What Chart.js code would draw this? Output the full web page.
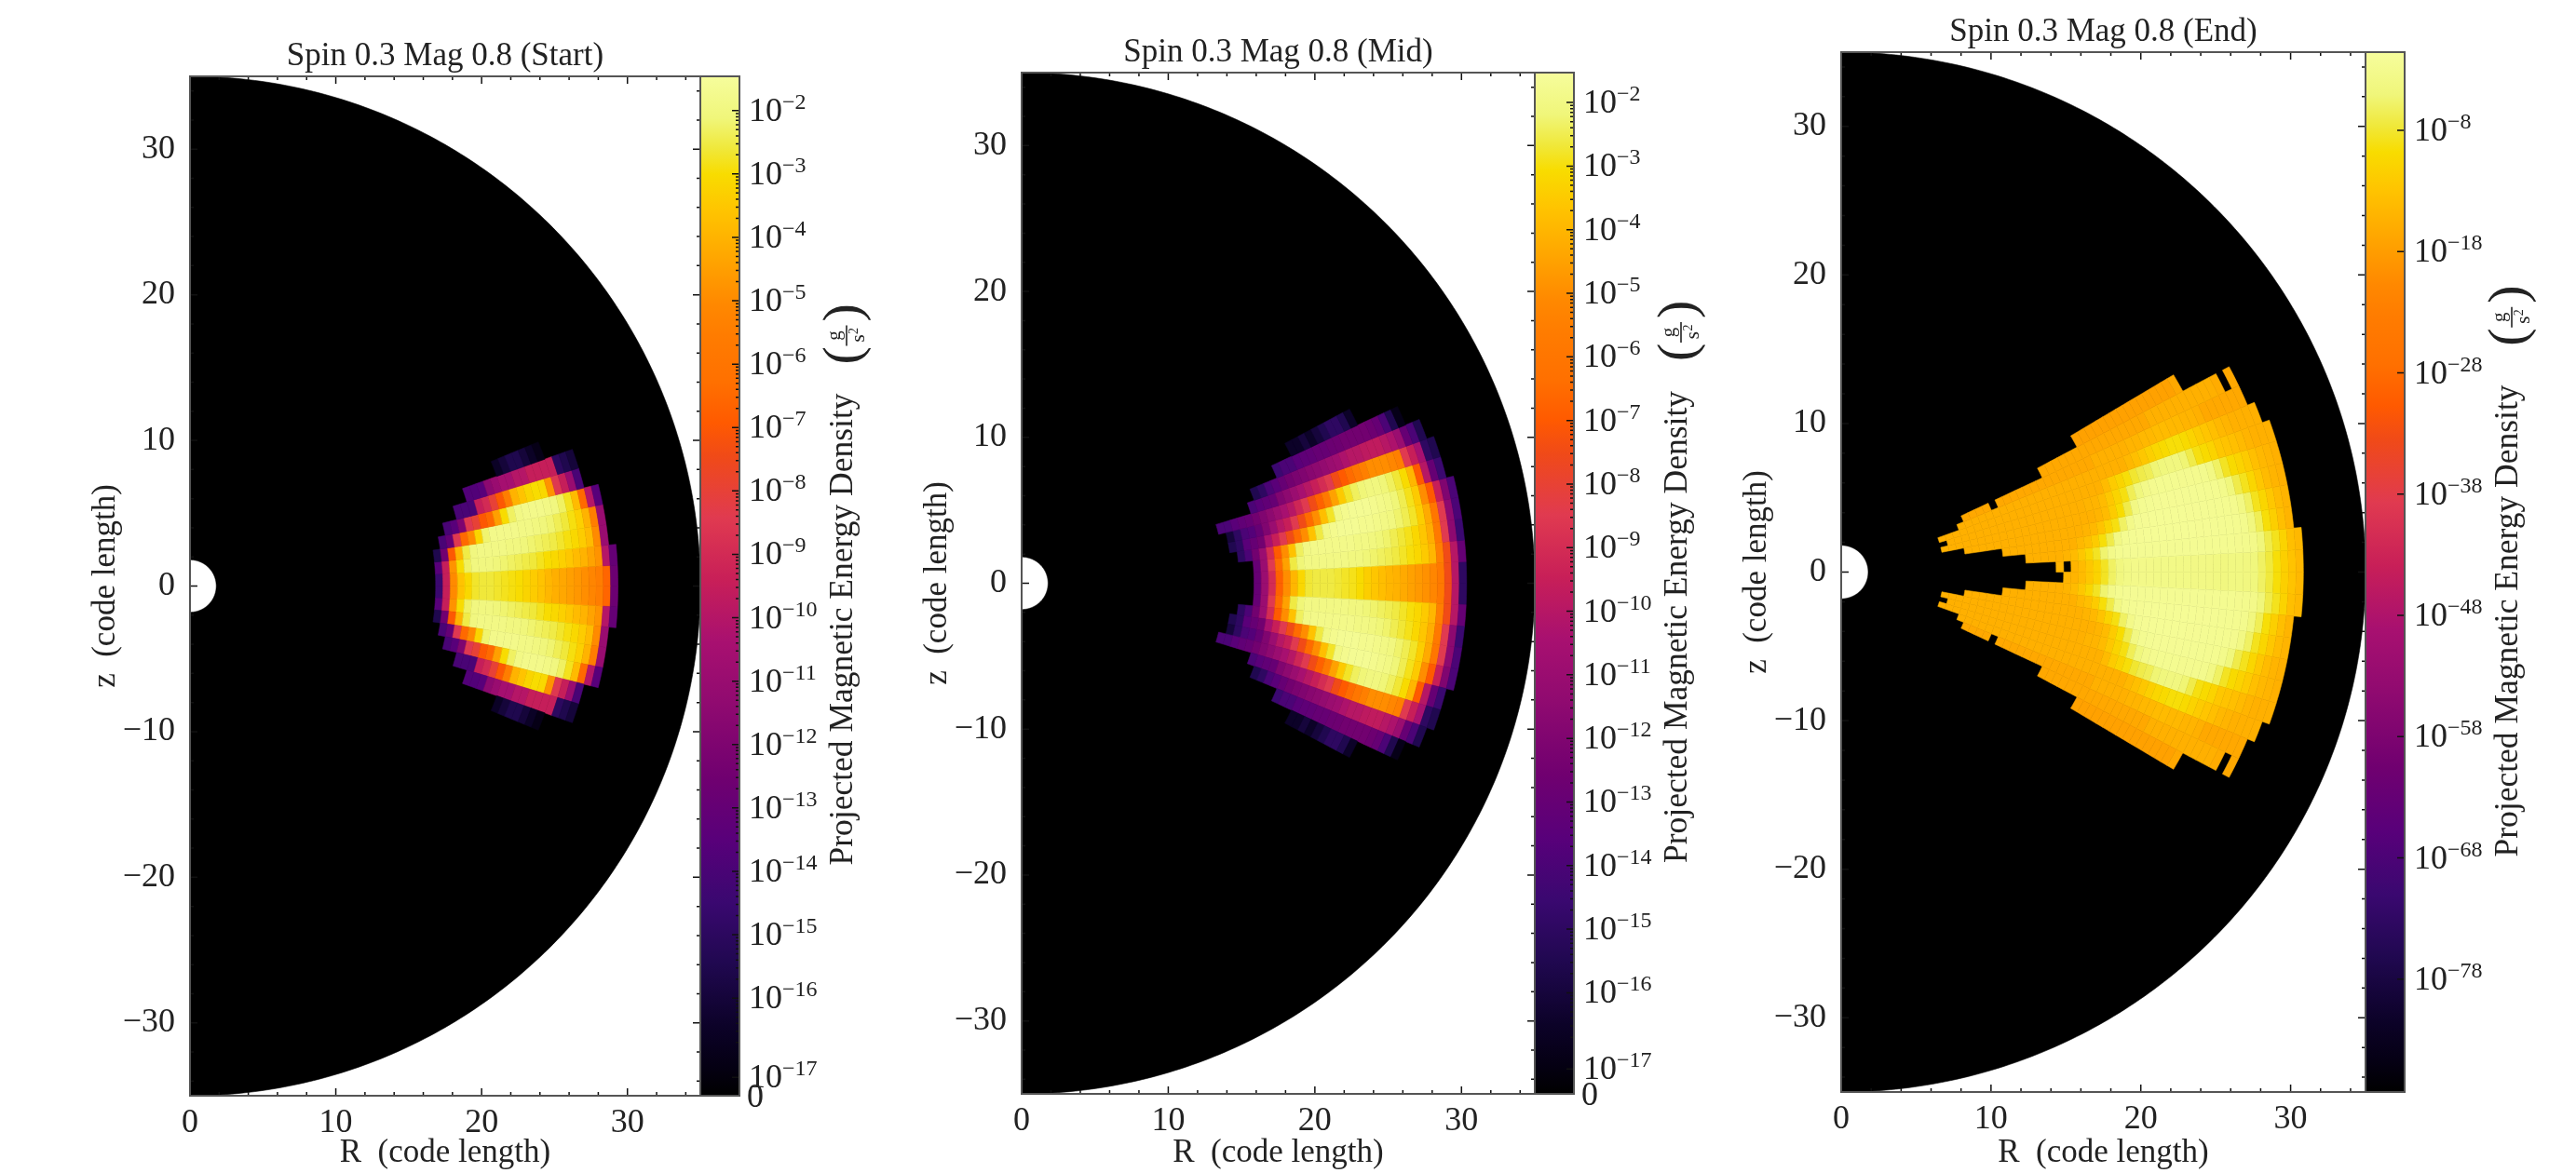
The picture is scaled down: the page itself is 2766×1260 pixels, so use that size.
<!DOCTYPE html>
<html>
<head>
<meta charset="utf-8">
<title>Spin 0.3 Mag 0.8</title>
<script src="https://cdn.jsdelivr.net/npm/chart.js@4"></script>
<style>
    html, body { margin: 0; padding: 0; background: #fff; }
    #page { position: relative; width: 2766px; height: 1260px; overflow: hidden; }
    canvas { position: absolute; top: 0; filter: blur(0.6px); }
</style>
</head>
<body>
<div id="page">
    <canvas id="panelStart" width="940" height="1260" style="left:0"></canvas>
    <canvas id="panelMid" width="900" height="1260" style="left:940px"></canvas>
    <canvas id="panelEnd" width="926" height="1260" style="left:1840px"></canvas>
</div>
<script>
// grid of the projection: cell edges in R and in latitude (degrees)
const radialEdges = [5.85, 6.35, 6.85, 7.35, 7.85, 8.35, 8.85, 9.35, 9.85, 10.35, 10.85, 11.35, 11.85, 12.35, 12.85,
    13.35, 13.85, 14.35, 14.85, 15.35, 15.85, 16.35, 16.85, 17.35, 17.85, 18.35, 18.85, 19.35, 19.85, 20.35, 20.85,
    21.35, 21.85, 22.35, 22.85, 23.35, 23.85, 24.35, 24.85, 25.35, 25.85, 26.35, 26.85, 27.35, 27.85, 28.35, 28.85,
    29.35, 29.85, 30.35, 30.85, 31.35];
const wedgeEdges = [0, 2.8, 5.6, 8.4, 11.2, 14, 16.9, 19.7, 22.5, 25.3, 28.1, 30.9];
const shellRadii = [1.8, 35];

const xTicks = [0, 2, 4, 6, 8, 10, 12, 14, 16, 18, 20, 22, 24, 26, 28, 30, 32, 34];
const yTicks = [-34, -32, -30, -28, -26, -24, -22, -20, -18, -16, -14, -12, -10, -8, -6, -4, -2, 0,
    2, 4, 6, 8, 10, 12, 14, 16, 18, 20, 22, 24, 26, 28, 30, 32, 34];

// log10 of the energy density, one list per wedge going up from the equator (lower half is mirrored)
// first*[k] is the index in radialEdges where wedge k starts, null is an empty (black) cell
const firstStart = [22, 22, 22, 23, 24, 26, 28, 33];
const rowsStart = [
    [-14.5, -9.5, -5, -3.6, -3.1, -2.7, -2.6, -2.6, -2.7, -2.8, -2.9, -3, -3.2, -3.4, -3.6, -3.9, -4.1, -4.3, -4.5, -4.7, -4.9, -5.2, -5.5, -6.6, -12.7],
    [-13.5, -9.5, -4.8, -3, -2.3, -2, -2, -2, -2.1, -2.2, -2.3, -2.4, -2.5, -2.6, -2.8, -3, -3.1, -3.3, -3.5, -3.8, -4, -4.4, -4.8, -10, -13],
    [-15.5, -12.5, -7, -4, -2.5, -2, -1.9, -1.9, -1.9, -1.9, -2, -2, -2.1, -2.2, -2.3, -2.4, -2.5, -2.7, -2.9, -3.1, -3.4, -3.8, -5, -11],
    [-14, -13, -8.5, -6.5, -5, -3.2, -2.2, -1.8, -1.8, -1.8, -1.8, -1.9, -1.9, -2, -2.1, -2.2, -2.4, -2.6, -2.9, -3.3, -4, -5.5, -11],
    [-14, -13.5, -12, -8.5, -8, -7, -6.5, -4.5, -3, -2.3, -1.9, -1.8, -1.8, -1.8, -1.9, -2, -2.3, -2.8, -3.8, -6.5, -10, -13.5],
    [-14, -14, -14, -9.5, -9, -8, -7, -5.5, -4, -3.6, -3.2, -3, -3.1, -4.8, -8.5, -9.5, -11, -14],
    [-13.7, -13.7, -13.5, -11.5, -11, -10.5, -10.5, -10, -10, -9.5, -9.5, -9.5, -9.5, -15, -15.5, -16],
    [-16.5, -16, -15.5, -15.5, -16, -16.5, -17]
];

const firstMid = [20, 20, 18, 17, 17, 16, 21, 22, 26, 29];
const rowsMid = [
    [-13, -11, -9, -6.8, -5, -4, -3.2, -2.7, -2.6, -2.6, -2.6, -2.7, -2.8, -2.9, -3.1, -3.4, -3.6, -3.8, -4, -4.1, -4.3, -4.5, -4.7, -4.9, -5.2, -5.8, -7.5, -10, -15],
    [-13, -11, -8.5, -6.5, -4.5, -2.6, -2.2, -2, -2, -2, -2, -2, -2, -2.1, -2.1, -2.2, -2.3, -2.4, -2.5, -2.6, -2.8, -3, -3.2, -3.5, -4, -5.5, -7.5, -10, -13],
    [-15, -14, -12.5, -11, -9, -7, -5, -3.7, -2.4, -2, -1.9, -1.9, -1.9, -1.9, -1.9, -1.9, -2, -2, -2.1, -2.2, -2.3, -2.5, -2.7, -2.9, -3.2, -3.6, -4.2, -5.8, -8.5, -11.5, -14.5],
    [-15.5, -15, -13.5, -13, -12.5, -10.5, -9.5, -8.5, -7.5, -6.5, -5, -3.7, -2.6, -2, -1.8, -1.7, -1.7, -1.7, -1.8, -1.8, -1.9, -2, -2.1, -2.3, -2.5, -2.8, -3.4, -4.3, -6, -8.5, -11.5, -14],
    [-16, -15, -14, -13.7, -13, -12, -11, -10, -9.5, -8.5, -7.5, -6.5, -5, -3.8, -2.8, -2, -1.8, -1.7, -1.7, -1.7, -1.8, -1.9, -2, -2.2, -2.5, -2.9, -3.5, -5, -7, -9.5, -12, -14],
    [-14, -14, -13.5, -13.2, -13, -12.5, -12, -11.5, -11, -10.5, -10, -9.2, -8.5, -7.5, -6.8, -5.8, -4.5, -3.5, -2.8, -2.4, -2.2, -2.1, -2.1, -2.2, -2.4, -2.7, -3.1, -4, -7, -10, -13, -14.5],
    [-14, -13.5, -13.2, -13, -12, -11.5, -11, -10.5, -10, -9.5, -9, -8.5, -7.5, -7, -6.5, -6, -5.5, -5, -5, -5, -5.2, -5.5, -8.5, -9.5, -10.5, -15, -15.5],
    [-15.5, -15, -14, -13.5, -13, -12.5, -12.2, -12, -11.7, -11.5, -11.3, -11, -10.8, -10.3, -10, -10, -9.8, -9.7, -9.7, -10, -10.3, -11, -13, -14, -15.5],
    [-14.5, -14, -14, -13.5, -13.3, -13.2, -13, -13, -12.8, -12.7, -12.5, -12.5, -12.5, -12.5, -12.7, -13, -14, -15.5, -17],
    [-16.5, -16.5, -16, -16.5, -16, -15.5, -15, -15, -15.5, -16.5]
];

const firstEnd = [17, 13, 10, 5, 2, 3, 2, 5, 6, 18, 24];
const rowsEnd = [
    [-15, null, -15, -14, -12.5, -11, -8.5, -6, -4.5, -3.8, -3.5, -3.5, -3.6, -3.7, -3.7, -3.7, -3.8, -3.8, -3.9, -3.9, -4, -4.2, -4.4, -4.2, -4.2, -4.4, -4.8, -6, -7.5, -9.5, -11.5, -13, -14.5],
    [-15.5, -15.5, -15.5, -15.5, -15.5, -15, -14, -12.5, -10.5, -8.5, -5.5, -3.5, -2.8, -2.5, -2.5, -2.5, -2.5, -2.5, -2.5, -2.5, -2.5, -2.5, -2.5, -2.5, -2.6, -2.6, -2.7, -2.8, -2.9, -3.1, -3.5, -5, -7, -8.7, -11, -13.5, -14.5],
    [-15.5, -15.5, -15.5, -15.5, -15.5, -15.5, -15.5, -15.5, -15.5, -15.5, -14.5, -13.5, -12, -9.5, -7, -4, -2.8, -2.5, -2.4, -2.3, -2.3, -2.3, -2.3, -2.3, -2.3, -2.3, -2.4, -2.4, -2.5, -2.6, -2.7, -2.8, -3.1, -4.5, -6.5, -9.5, -11.5, -13.5, -15],
    [-15.5, -15.5, -15.5, -15.5, -15.5, -15.5, -15.5, -15.5, -15.5, -15.5, -15.5, -15.5, -15.5, -15.5, -15.5, -15.5, -15, -14.5, -13, -11, -9.2, -6, -3.5, -2.5, -2.4, -2.3, -2.3, -2.3, -2.3, -2.3, -2.4, -2.4, -2.5, -2.6, -2.7, -2.8, -3, -4, -6, -8.7, -10.5, -12.5, -14, -15],
    [-15.5, -15.5, -15.5, -15.5, -15.5, -15.5, -15.5, -15.5, -15.5, -15.5, -15.5, -15.5, -15.5, -15.5, -15.5, -15.5, -15.5, -15.5, -15.5, -15.5, -15.5, -15, -14, -12, -9.8, -7, -4, -2.7, -2.5, -2.4, -2.4, -2.4, -2.4, -2.5, -2.5, -2.6, -2.7, -2.8, -3.3, -4.8, -7, -8.7, -10.5, -12.5, -14, -15, -15.5],
    [-15.5, -15.5, -15.5, -15.5, -15.5, -15.5, -15.5, -15.5, -15.5, -15.5, -15.5, -15.5, -15.5, -15.5, -15.5, -15.5, -15.5, -15.5, -15.5, -15, -15, -14, -12.5, -10.8, -9.2, -6.5, -4.8, -3.5, -2.9, -2.8, -2.8, -2.8, -2.9, -2.9, -3, -3.1, -4, -6, -8.5, -10, -11, -12, -13.5, -14.5, -15, -15.5],
    [-15.5, -15.5, -15.5, -15.5, -15.5, -15.5, -15.5, -15.5, -15.5, -15.5, -15.5, -15.5, -15.5, -15.5, -15.5, -15.5, -15.5, -15.5, -15.5, -15.5, -15.5, -15.5, -15.5, -14, -12, -10.8, -9.5, -8, -7, -6.5, -5.3, -4.8, -4.5, -4.5, -5.3, -7, -9.2, -10, -11, -12.5, -13, -13.5, -14.2, -15, -15.5, -15.5, -15.5],
    [-15.5, -15.5, -15.5, -15.5, -15.5, -15.5, -15.5, -15.5, -15.5, -15.5, -15.5, -15.5, -15.5, -15.5, -15.5, -15.5, -15.5, -15.5, -15.5, -15.5, -15.5, -15.5, -15.5, -15.5, -14.5, -13.5, -12.5, -11.5, -10.5, -10, -9.5, -9.5, -10, -11, -12, -12.8, -13.5, -14.5, -15, -15.5, -15.5, -15.5, -15.5],
    [-16.5, -16.5, -16.5, -16.5, null, -16.5, -16.5, -16.5, -16.5, -16.5, -16.5, -16.5, -16.5, -16.5, -16.5, -16.5, -16.5, -16.5, -16.5, -15.5, -15.5, -15.5, -15.5, -15.5, -15, -15, -14.5, -14.5, -14, -14, -14.5, -14.5, -15, -15, -15.5, -16.5, -16.5, -16.5, -16.5, -16.5, -16.5],
    [-16.5, -16.5, -16.5, -16.5, -16.5, -16.5, -16.5, -16.5, -16.5, -16.5, -16.5, -16.5, -16.5, -16.5, -16.5, -16.5, -15.5, -15.5, -15.5, -15.5, -15.5, -15.5, -15.5, -15.5, -15.5, -15.5, -16, null, -16.5],
    [-17.5, -17.5, -17.5, -17.5, -17.5, -17.5, -17.5, -17.5, -17.5, -17.5, -17.5, -17.5, -17.5, -17.5, -17.5, -16.5]
];
// the last frame is not quite symmetric at the tip of the hole
const lowerFirstEnd = 18;
const lowerRowEnd = [-15, -15, -14, -12.5, -11, -8.5, -6, -4.5, -3.8, -3.5, -3.5, -3.6, -3.7, -3.7, -3.7, -3.8, -3.8, -3.9, -3.9, -4, -4.2, -4.4, -4.2, -4.2, -4.4, -4.8, -6, -7.5, -9.5, -11.5, -13, -14.5];

// colour bars: tick position on the bar, and the exponent written next to it
const barRangeStart = [-17.54, -1.46];
const barTicksStart = [-2, -3, -4, -5, -6, -7, -8, -9, -10, -11, -12, -13, -14, -15, -16, -17.25, -17.54];
const barLabelsStart = ['−2', '−3', '−4', '−5', '−6', '−7', '−8', '−9', '−10', '−11', '−12', '−13', '−14', '−15', '−16', '−17', '0'];
const barRangeMid = [-17.59, -1.53];
const barTicksMid = [-2, -3, -4, -5, -6, -7, -8, -9, -10, -11, -12, -13, -14, -15, -16, -17.2, -17.59];
const barLabelsMid = ['−2', '−3', '−4', '−5', '−6', '−7', '−8', '−9', '−10', '−11', '−12', '−13', '−14', '−15', '−16', '−17', '0'];
const barRangeEnd = [-87.3, -1.55];
const barTicksEnd = [-8, -18, -28, -38, -48, -58, -68, -78];
const barLabelsEnd = ['−8', '−18', '−28', '−38', '−48', '−58', '−68', '−78'];
const decadeMinors = [0.301, 0.477, 0.602, 0.699, 0.778, 0.845, 0.903, 0.954];

// colours sampled along the reference colour bar, as [position, colour]
const barStops = [[0, '#000000'], [0.03, '#050014'], [0.068, '#0c0228'], [0.13, '#200850'], [0.19, '#3a0870'],
    [0.25, '#58007a'], [0.312, '#700070'], [0.385, '#900a70'], [0.445, '#a81070'], [0.506, '#c81f58'],
    [0.567, '#e03a50'], [0.627, '#f04a18'], [0.66, '#ff5a00'], [0.7, '#ff7000'], [0.746, '#ff7c00'],
    [0.776, '#ff8800'], [0.807, '#ff9c00'], [0.837, '#ffb000'], [0.868, '#ffc400'], [0.904, '#f8dc00'],
    [0.929, '#f0e83a'], [0.959, '#f0f67a'], [1, '#f6fd9c']];

const serif = '"Liberation Serif", serif';
const textColor = '#222';
const spineColor = '#555';

function hexToRgb(hex) {
    return [1, 3, 5].map(i => parseInt(hex.substr(i, 2), 16));
}

function barColor(t) {
    const f = Math.min(Math.max(t, 0), 1);
    let i = 0;
    while (i < barStops.length - 2 && barStops[i + 1][0] < f) i++;
    const a = hexToRgb(barStops[i][1]);
    const b = hexToRgb(barStops[i + 1][1]);
    const u = (f - barStops[i][0]) / (barStops[i + 1][0] - barStops[i][0]);
    const rgb = a.map((c, n) => Math.round(c + (b[n] - c) * u));
    return 'rgb(' + rgb.join(',') + ')';
}

function makeCell(r0, r1, t0, t1, v) {
    const mid = (r0 + r1) / 2;
    const th = (t0 + t1) / 2 * Math.PI / 180;
    return { x: mid * Math.cos(th), y: mid * Math.sin(th), r0, r1, t0, t1, v };
}

function buildCells(first, rows, lowerFirst, lowerRow) {
    const cells = [];
    rows.forEach((row, k) => {
        row.forEach((v, n) => {
            const i = first[k] + n;
            if (v !== null) cells.push(makeCell(radialEdges[i], radialEdges[i + 1], wedgeEdges[k], wedgeEdges[k + 1], v));
        });
        const mirror = (k === 0 && lowerRow) ? lowerRow : row;
        const start = (k === 0 && lowerRow) ? lowerFirst : first[k];
        mirror.forEach((v, n) => {
            const i = start + n;
            if (v !== null) cells.push(makeCell(radialEdges[i], radialEdges[i + 1], -wedgeEdges[k + 1], -wedgeEdges[k], v));
        });
    });
    return cells;
}

function sectorPath(ctx, cell, xs, ys) {
    const steps = Math.max(2, Math.ceil((cell.t1 - cell.t0) * 1.5));
    const pt = (r, t) => {
        const a = t * Math.PI / 180;
        return [xs.getPixelForValue(r * Math.cos(a)), ys.getPixelForValue(r * Math.sin(a))];
    };
    ctx.beginPath();
    for (let s = 0; s <= steps; s++) {
        const p = pt(cell.r1, cell.t0 + (cell.t1 - cell.t0) * s / steps);
        s === 0 ? ctx.moveTo(p[0], p[1]) : ctx.lineTo(p[0], p[1]);
    }
    for (let s = steps; s >= 0; s--) {
        const p = pt(cell.r0, cell.t0 + (cell.t1 - cell.t0) * s / steps);
        ctx.lineTo(p[0], p[1]);
    }
    ctx.closePath();
}

// draws the polar cells of every dataset through the x and y scales
const polarCells = {
    id: 'polarCells',
    beforeDatasetsDraw(chart) {
        const { ctx, scales } = chart;
        const cb = scales.cb;
        ctx.save();
        chart.data.datasets.forEach(ds => {
            ds.data.forEach(cell => {
                const color = cell.v === null ? '#000' : barColor((cell.v - cb.min) / (cb.max - cb.min));
                sectorPath(ctx, cell, scales.x, scales.y);
                ctx.fillStyle = color;
                ctx.strokeStyle = color;
                ctx.lineWidth = 0.6;
                ctx.fill();
                ctx.stroke();
            });
        });
        ctx.restore();
    }
};

function drawExponentLabel(ctx, x, y, exponent) {
    ctx.font = '36px ' + serif;
    if (exponent === '0') {
        ctx.fillText('0', x - 2, y + 12);
        return;
    }
    ctx.fillText('10', x, y + 11);
    const w = ctx.measureText('10').width;
    ctx.font = '24px ' + serif;
    ctx.fillText(exponent, x + w, y - 2);
}

function drawBarTitle(ctx, barRight, midY, scaleY) {
    const base = barRight + 121;
    ctx.save();
    ctx.translate(base, midY + 300 * scaleY);
    ctx.rotate(-Math.PI / 2);
    ctx.textAlign = 'left';
    ctx.textBaseline = 'alphabetic';
    ctx.font = '35.5px ' + serif;
    ctx.fillStyle = textColor;
    ctx.fillText('Projected Magnetic Energy Density', 0, 0);
    // the unit, a small fraction in big brackets
    const unitX = 538 * scaleY;
    ctx.font = '58px ' + serif;
    ctx.fillText('(', unitX, 8);
    ctx.fillText(')', unitX + 46, 8);
    ctx.font = '21px ' + serif;
    ctx.textAlign = 'center';
    ctx.fillText('g', unitX + 31, -13);
    ctx.fillText('s', unitX + 28, 13);
    ctx.font = '14px ' + serif;
    ctx.fillText('2', unitX + 36, 6);
    ctx.strokeStyle = textColor;
    ctx.lineWidth = 1.6;
    ctx.beginPath();
    ctx.moveTo(unitX + 20, -6);
    ctx.lineTo(unitX + 42, -6);
    ctx.stroke();
    ctx.restore();
}

// spines, inward ticks on all sides, and the colour bar next to the plot
const frameAndBar = {
    id: 'frameAndBar',
    afterDatasetsDraw(chart, args, opts) {
        const { ctx, scales, chartArea } = chart;
        const { left, right, top, bottom } = chartArea;
        const cb = scales.cb;
        const barRight = right + opts.barWidth;
        ctx.save();

        const grad = ctx.createLinearGradient(0, cb.getPixelForValue(cb.min), 0, cb.getPixelForValue(cb.max));
        barStops.forEach(s => grad.addColorStop(s[0], s[1]));
        ctx.fillStyle = grad;
        ctx.fillRect(right, top, opts.barWidth, bottom - top);

        ctx.strokeStyle = '#111';
        ctx.lineWidth = 1.5;
        ctx.beginPath();
        scales.x.ticks.forEach(t => {
            const len = t.value % 10 === 0 ? 8 : 4;
            const px = scales.x.getPixelForValue(t.value);
            ctx.moveTo(px, bottom);
            ctx.lineTo(px, bottom - len);
            ctx.moveTo(px, top);
            ctx.lineTo(px, top + len);
        });
        scales.y.ticks.forEach(t => {
            const len = t.value % 10 === 0 ? 8 : 4;
            const py = scales.y.getPixelForValue(t.value);
            ctx.moveTo(left, py);
            ctx.lineTo(left + len, py);
            ctx.moveTo(right, py);
            ctx.lineTo(right - len, py);
        });
        // colour bar ticks point inward from its right edge
        opts.ticks.forEach((v, i) => {
            if (opts.labels[i] === '0') return;
            const py = cb.getPixelForValue(v);
            ctx.moveTo(barRight, py);
            ctx.lineTo(barRight - 8, py);
            if (opts.minors && Number.isInteger(v)) {
                decadeMinors.forEach(m => {
                    const pm = cb.getPixelForValue(v - 1 + m);
                    if (v - 1 + m > cb.min) {
                        ctx.moveTo(barRight, pm);
                        ctx.lineTo(barRight - 4, pm);
                    }
                });
            }
        });
        ctx.stroke();

        ctx.strokeStyle = spineColor;
        ctx.lineWidth = 2;
        ctx.strokeRect(left, top, barRight - left, bottom - top);
        ctx.beginPath();
        ctx.moveTo(right, top);
        ctx.lineTo(right, bottom);
        ctx.stroke();

        ctx.fillStyle = textColor;
        ctx.textAlign = 'left';
        ctx.textBaseline = 'alphabetic';
        opts.ticks.forEach((v, i) => {
            drawExponentLabel(ctx, barRight + 10, cb.getPixelForValue(v), opts.labels[i]);
        });
        drawBarTitle(ctx, barRight, (top + bottom) / 2, (bottom - top) / 1095);
        ctx.restore();
    }
};

function axisTickLabel(v) {
    if (v % 10 !== 0) return '';
    return v < 0 ? '−' + Math.abs(v) : String(v);
}

function createPanel(id, name, cells, frame, bar) {
    const canvas = document.getElementById(id);
    const plotLeft = frame.left - frame.canvasX;
    const plotRight = frame.right - frame.canvasX;
    new Chart(canvas.getContext('2d'), {
        type: 'scatter',
        data: {
            datasets: [
                { label: 'shell', data: [makeCell(shellRadii[0], shellRadii[1], -90, 90, null)], pointRadius: 0 },
                { label: name, data: cells, pointRadius: 0 }
            ]
        },
        options: {
            responsive: false,
            animation: false,
            events: [],
            layout: { padding: { left: frame.labelLeft - frame.canvasX, right: 0, top: 0, bottom: 0 } },
            plugins: {
                legend: { display: false },
                tooltip: { enabled: false },
                title: {
                    display: true,
                    fullSize: false,
                    text: name,
                    color: textColor,
                    font: { family: serif, size: 35, weight: 'normal', lineHeight: 1.2 },
                    padding: { top: frame.top - 42, bottom: 0 }
                },
                frameAndBar: { barWidth: frame.barRight - frame.right, ticks: bar.ticks, labels: bar.labels, minors: bar.minors }
            },
            scales: {
                x: {
                    type: 'linear',
                    min: 0,
                    max: 35,
                    afterBuildTicks: s => { s.ticks = xTicks.map(v => ({ value: v })); },
                    afterFit: s => { s.height = 1260 - frame.bottom; },
                    grid: { display: false },
                    border: { display: false },
                    ticks: {
                        autoSkip: false,
                        maxRotation: 0,
                        padding: 0,
                        color: textColor,
                        font: { family: serif, size: 36 },
                        callback: axisTickLabel
                    },
                    title: { display: true, text: 'R  (code length)', color: textColor, font: { family: serif, size: 35 }, padding: { top: 0, bottom: 0 } }
                },
                y: {
                    type: 'linear',
                    min: -35,
                    max: 35,
                    afterBuildTicks: s => { s.ticks = yTicks.map(v => ({ value: v })); },
                    afterFit: s => { s.width = plotLeft - (frame.labelLeft - frame.canvasX); },
                    grid: { display: false },
                    border: { display: false },
                    ticks: {
                        autoSkip: false,
                        padding: 8,
                        color: textColor,
                        font: { family: serif, size: 36 },
                        callback: axisTickLabel
                    },
                    title: { display: true, text: 'z  (code length)', color: textColor, font: { family: serif, size: 35 }, padding: { top: 0, bottom: 0 } }
                },
                cb: {
                    type: 'linear',
                    axis: 'y',
                    position: 'right',
                    min: bar.range[0],
                    max: bar.range[1],
                    afterFit: s => { s.width = canvas.width - plotRight; },
                    grid: { display: false },
                    border: { display: false },
                    ticks: { display: false }
                }
            }
        },
        plugins: [polarCells, frameAndBar]
    });
}

createPanel('panelStart', 'Spin 0.3 Mag 0.8 (Start)', buildCells(firstStart, rowsStart),
    { canvasX: 0, labelLeft: 93, left: 204, right: 752, barRight: 794, top: 82, bottom: 1177 },
    { range: barRangeStart, ticks: barTicksStart, labels: barLabelsStart, minors: true });

createPanel('panelMid', 'Spin 0.3 Mag 0.8 (Mid)', buildCells(firstMid, rowsMid),
    { canvasX: 940, labelLeft: 986, left: 1097, right: 1648, barRight: 1690, top: 78, bottom: 1175 },
    { range: barRangeMid, ticks: barTicksMid, labels: barLabelsMid, minors: true });

createPanel('panelEnd', 'Spin 0.3 Mag 0.8 (End)', buildCells(firstEnd, rowsEnd, lowerFirstEnd, lowerRowEnd),
    { canvasX: 1840, labelLeft: 1866, left: 1977, right: 2540, barRight: 2582, top: 56, bottom: 1173 },
    { range: barRangeEnd, ticks: barTicksEnd, labels: barLabelsEnd, minors: false });
</script>
</body>
</html>
